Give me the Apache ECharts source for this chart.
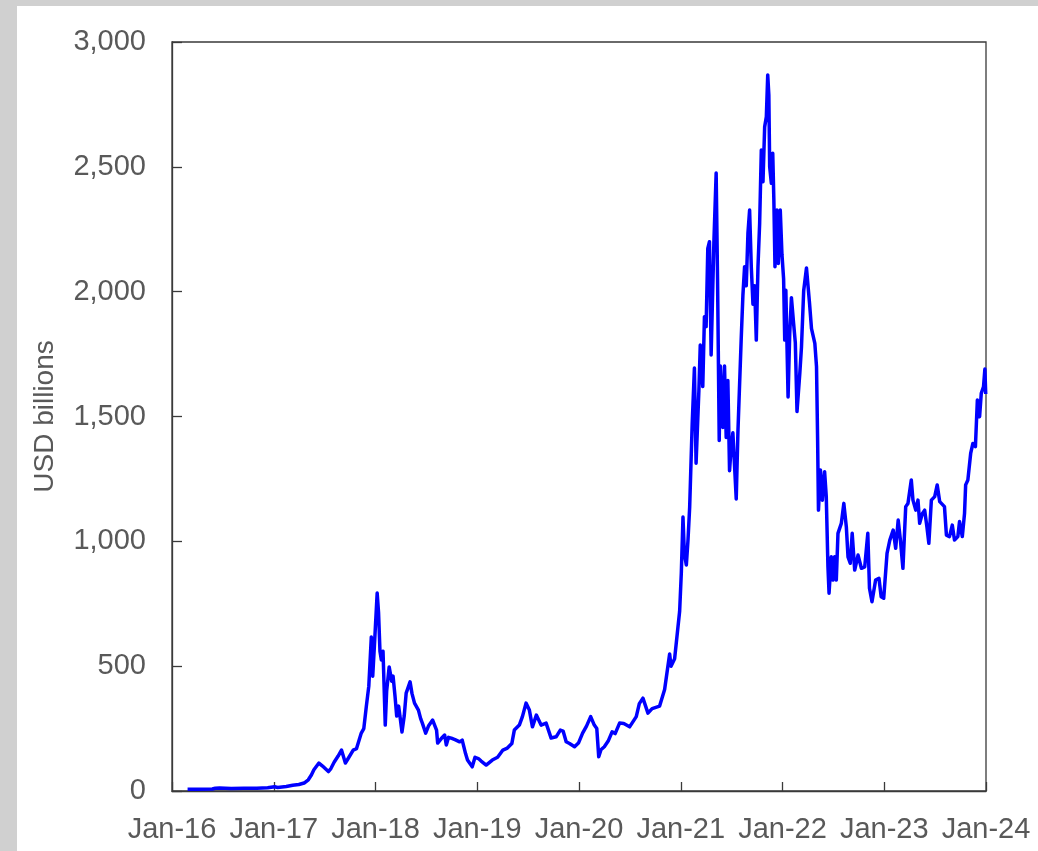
<!DOCTYPE html>
<html>
<head>
<meta charset="utf-8">
<script src="https://cdn.jsdelivr.net/npm/echarts@6/dist/echarts.min.js"></script>
<style>
html,body{margin:0;padding:0;width:1038px;height:851px;background:#d0d0d0;overflow:hidden;}
#chart{position:absolute;left:17px;top:6px;width:1021px;height:845px;background:#ffffff;}
</style>
</head>
<body>
<div id="chart"></div>
<script>
const dates = [
"2016-02-26","2016-04-01","2016-05-25","2016-06-05","2016-06-20","2016-08-01","2016-09-15","2016-11-01","2016-12-10",
"2017-01-04","2017-01-15","2017-02-15","2017-03-10","2017-04-01","2017-04-20","2017-05-05","2017-05-16","2017-05-25","2017-06-12","2017-06-25","2017-07-16","2017-07-25","2017-08-06","2017-08-20","2017-09-01","2017-09-15","2017-09-25","2017-10-13","2017-10-25","2017-11-11","2017-11-20","2017-11-29","2017-12-08","2017-12-17","2017-12-22","2017-12-28",
"2018-01-07","2018-01-12","2018-01-17","2018-01-22","2018-01-28","2018-02-05","2018-02-10","2018-02-19","2018-02-28","2018-03-05","2018-03-12","2018-03-18","2018-03-25","2018-04-01","2018-04-06","2018-04-14","2018-04-21","2018-05-05","2018-05-12","2018-05-21","2018-06-04","2018-06-12","2018-06-18","2018-06-30","2018-07-10","2018-07-25","2018-08-08","2018-08-12","2018-08-25","2018-09-06","2018-09-12","2018-09-20","2018-09-30","2018-10-15","2018-10-30","2018-11-08","2018-11-20","2018-11-27","2018-12-14","2018-12-24",
"2019-01-05","2019-01-15","2019-02-02","2019-02-24","2019-03-15","2019-04-03","2019-04-19","2019-05-05","2019-05-14","2019-06-01","2019-06-12","2019-06-25","2019-07-07","2019-07-18","2019-08-01","2019-08-18","2019-09-05","2019-09-23","2019-10-11","2019-10-26","2019-11-05","2019-11-16","2019-11-28","2019-12-16","2019-12-30",
"2020-01-14","2020-01-28","2020-02-12","2020-02-25","2020-03-05","2020-03-12","2020-03-20","2020-04-01","2020-04-15","2020-04-29","2020-05-10","2020-05-26","2020-06-10","2020-07-01","2020-07-25","2020-08-05","2020-08-18","2020-09-05","2020-09-20","2020-10-17","2020-11-04","2020-11-22","2020-11-27","2020-12-10","2020-12-22","2020-12-28",
"2021-01-03","2021-01-09","2021-01-14","2021-01-21","2021-01-27","2021-02-02","2021-02-11","2021-02-19","2021-02-25","2021-03-07","2021-03-12","2021-03-21","2021-03-27","2021-04-02","2021-04-08","2021-04-14","2021-04-20","2021-04-30","2021-05-08","2021-05-13","2021-05-19","2021-05-23","2021-06-01","2021-06-07","2021-06-13","2021-06-19","2021-06-25","2021-07-01","2021-07-07","2021-07-13","2021-07-19","2021-07-25","2021-07-31","2021-08-06","2021-08-12","2021-08-18","2021-08-24","2021-08-30","2021-09-05","2021-09-11","2021-09-17","2021-09-23","2021-09-29","2021-10-05","2021-10-11","2021-10-17","2021-10-23","2021-10-29","2021-11-04","2021-11-09","2021-11-13","2021-11-16","2021-11-22","2021-11-27","2021-12-01","2021-12-05","2021-12-12","2021-12-17","2021-12-24","2021-12-30",
"2022-01-05","2022-01-09","2022-01-13","2022-01-21","2022-01-27","2022-02-02","2022-02-10","2022-02-16","2022-02-22","2022-03-04","2022-03-10","2022-03-18","2022-03-28","2022-04-02","2022-04-08","2022-04-15","2022-04-27","2022-05-03","2022-05-07","2022-05-10","2022-05-17","2022-05-24","2022-06-01","2022-06-07","2022-06-13","2022-06-17","2022-06-25","2022-07-01","2022-07-07","2022-07-13","2022-07-19","2022-07-31","2022-08-09","2022-08-18","2022-08-24","2022-09-01","2022-09-08","2022-09-17","2022-09-29","2022-10-11","2022-10-23","2022-11-03","2022-11-09","2022-11-18","2022-12-01","2022-12-13","2022-12-21","2022-12-30",
"2023-01-11","2023-01-21","2023-02-02","2023-02-11","2023-02-20","2023-02-28","2023-03-09","2023-03-19","2023-03-27","2023-04-08","2023-04-14","2023-04-24","2023-05-02","2023-05-08","2023-05-18","2023-05-26","2023-06-03","2023-06-10","2023-06-19","2023-07-01","2023-07-10","2023-07-19","2023-08-05","2023-08-12","2023-08-23","2023-09-02","2023-09-10","2023-09-22","2023-09-28","2023-10-08","2023-10-16","2023-10-20","2023-10-28","2023-11-07","2023-11-15","2023-11-24","2023-12-01","2023-12-09","2023-12-15","2023-12-23","2023-12-28","2023-12-31"
];
const values = [
7,7,8,11,12,10,11,11,13,
17,14,18,23,26,32,45,64,85,112,100,78,90,116,140,164,112,130,164,170,232,250,338,420,617,460,580,
793,713,560,525,560,264,400,497,440,460,380,300,340,280,236,300,392,437,390,352,324,290,272,232,260,284,244,192,210,224,184,215,212,205,197,204,150,124,97,135,
130,120,104,124,135,164,172,190,244,264,298,352,324,257,304,264,272,212,217,244,240,197,190,177,192,
232,260,298,264,250,137,165,177,200,237,230,272,270,257,298,350,372,312,330,340,407,549,500,530,657,720,
873,1097,950,905,1005,1137,1470,1694,1313,1602,1786,1620,1900,1860,2173,2200,1746,2203,2475,2050,1404,1702,1456,1702,1416,1644,1283,1378,1435,1302,1170,1435,1626,1815,1986,2100,2024,2233,2327,2100,1950,2024,1806,2100,2273,2567,2440,2660,2700,2868,2787,2500,2434,2554,2367,2100,2327,2113,2327,2150,
2050,1806,2006,1578,1835,1976,1871,1795,1520,1672,1777,2004,2095,2093,1953,1852,1793,1700,1406,1125,1286,1165,1279,1179,898,792,938,845,938,845,1032,1072,1152,1058,938,912,1032,885,945,892,898,1032,812,758,845,852,778,772,
952,1005,1045,972,1085,1005,892,1139,1152,1246,1165,1125,1165,1072,1112,1125,1058,992,1165,1179,1226,1159,1139,1025,1019,1065,1005,1019,1079,1019,1112,1226,1246,1352,1392,1379,1566,1499,1593,1619,1690,1590
];
const yearTicks = [2016,2017,2018,2019,2020,2021,2022,2023,2024];

function toYear(s){
  const d = Date.parse(s + "T00:00:00Z");
  const y = new Date(d).getUTCFullYear();
  const a = Date.UTC(y,0,1), b = Date.UTC(y+1,0,1);
  return y + (d - a) / (b - a);
}
const seriesData = dates.map((d,i) => [toYear(d), values[i]]);

const chart = echarts.init(document.getElementById('chart'), null, {renderer:'canvas'});
const txt = '#595959', ax = '#3a3a3a';
const ff = 'Liberation Sans, Arial, sans-serif';
chart.setOption({
  animation:false,
  backgroundColor:'#ffffff',
  grid:{left:155, top:36, right:52, bottom:60, show:true, borderColor:ax, borderWidth:1.3, backgroundColor:'transparent'},
  xAxis:{
    type:'value', min:yearTicks[0], max:yearTicks[yearTicks.length-1], interval:1,
    axisLine:{show:true, lineStyle:{color:ax, width:1.3}},
    axisTick:{show:true, inside:true, length:9, lineStyle:{color:ax, width:1.3}},
    splitLine:{show:false},
    axisLabel:{color:txt, fontSize:29, fontFamily:ff, margin:24,
      showMinLabel:true, showMaxLabel:true,
      formatter:v => 'Jan-' + String(Math.round(v)).slice(2)}
  },
  yAxis:{
    type:'value', min:0, max:3000, interval:500,
    name:'USD billions', nameLocation:'middle', nameGap:113, nameRotate:90,
    nameTextStyle:{color:txt, fontSize:28, fontFamily:ff},
    axisLine:{show:true, lineStyle:{color:ax, width:1.3}},
    axisTick:{show:true, inside:true, length:10, lineStyle:{color:ax, width:1.3}},
    splitLine:{show:false},
    axisLabel:{color:txt, fontSize:29, fontFamily:ff, margin:26,
      formatter:v => v.toLocaleString('en-US')}
  },
  series:[{
    type:'line', data:seriesData, showSymbol:false, symbol:'none',
    lineStyle:{color:'#0000ff', width:3.5, join:'round'}, itemStyle:{color:'#0000ff'}
  }]
});
</script>
</body>
</html>
